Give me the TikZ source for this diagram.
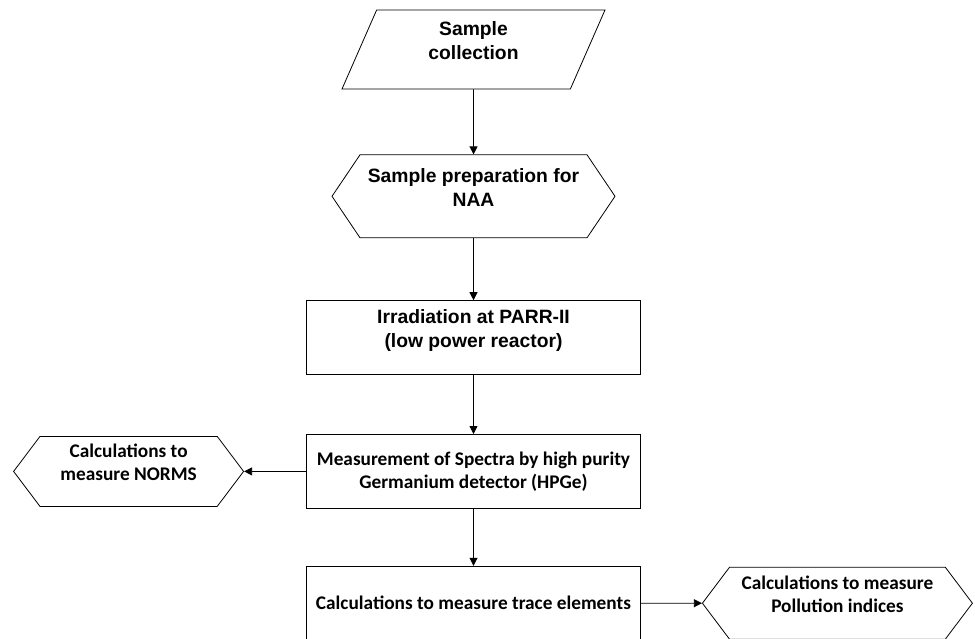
\documentclass[tikz,border=0pt]{standalone}
\usepackage{fontspec}
\newfontfamily\arialfont{Liberation Sans}
\newfontfamily\calibrifont{Carlito}
\usetikzlibrary{positioning, shapes.geometric, shapes.symbols, arrows.meta}

\begin{document}
\begin{tikzpicture}[
  >={Triangle[length=8pt,width=8pt]},
  line width=0.8pt,
  base/.style={draw, align=center, inner sep=2pt, font=\arialfont\bfseries\fontsize{19.3}{24}\selectfont},
  cal/.style={font=\calibrifont\bfseries\fontsize{19.3}{23}\selectfont},
  raised/.style={text depth=18pt},
  box/.style={base, rectangle, minimum width=334pt, minimum height=74pt},
  hexa/.style={base, signal, signal to=west and east, signal pointer angle=106},
  slanted/.style={base, trapezium, trapezium left angle=60, trapezium right angle=120,
    trapezium stretches body, minimum width=263pt, minimum height=79pt}
]
  \useasboundingbox (0,0) rectangle (975pt,-639pt);

  \node[slanted, raised] (collection) at (473.5pt,-49.5pt) {Sample\\collection};

  \node[hexa, raised, signal pointer angle=112, minimum width=283pt, minimum height=83pt,
    below=65pt of collection] (preparation) {Sample preparation for\\NAA};

  \node[box, raised, below=62pt of preparation] (irradiation) {Irradiation at PARR-II\\(low power reactor)};

  \node[box, cal, below=59pt of irradiation] (measurement) {Measurement of Spectra by high purity\\Germanium detector (HPGe)};

  \node[box, cal, below=57pt of measurement] (trace) {Calculations to measure trace elements};

  \node[hexa, cal, raised, minimum width=230pt, minimum height=70pt,
    left=62pt of measurement] (norms) {Calculations to\\measure NORMS};

  \node[hexa, cal, raised, minimum width=270pt, minimum height=72pt,
    right=61pt of trace] (pollution) {Calculations to measure\\Pollution indices};

  \draw[->] (collection) -- (preparation);
  \draw[->] (preparation) -- (irradiation);
  \draw[->] (irradiation) -- (measurement);
  \draw[->] (measurement) -- (trace);
  \draw[->] (measurement) -- (norms);
  \draw[->] (trace) -- (pollution);
\end{tikzpicture}
\end{document}
